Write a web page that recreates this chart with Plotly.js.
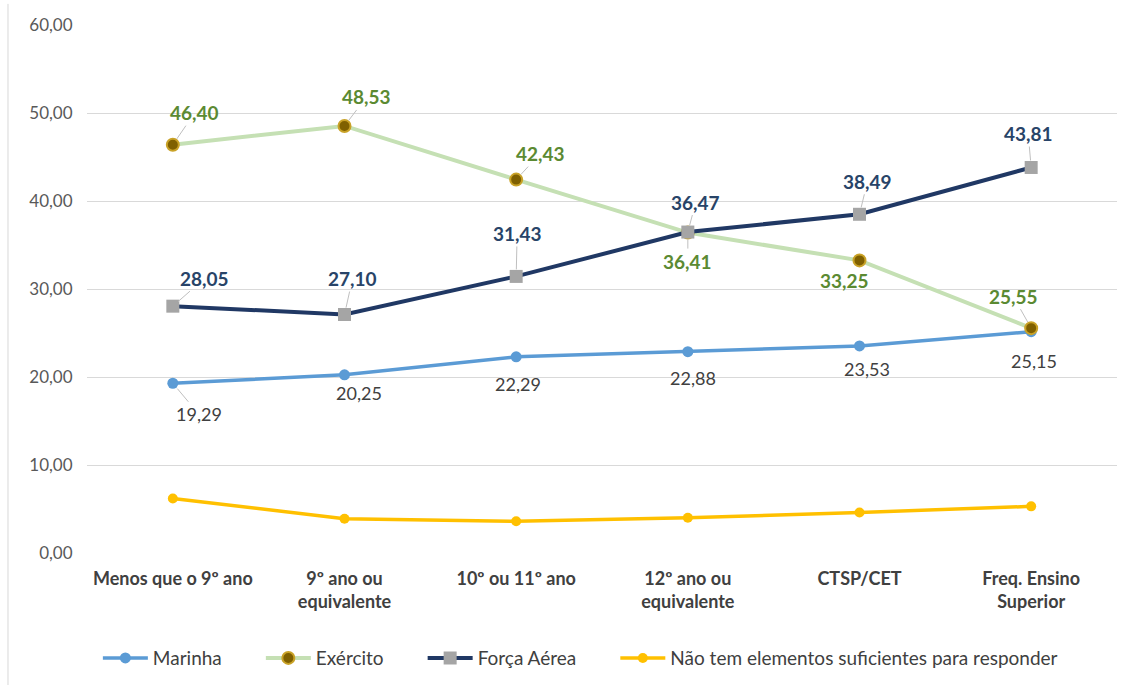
<!DOCTYPE html>
<html>
<head>
<meta charset="utf-8">
<script src="https://cdn.plot.ly/plotly-3.0.1.min.js"></script>
<style>html,body{margin:0;padding:0;background:#fff;}#chart{width:1133px;height:689px;}</style>
</head>
<body>
<div id="chart"></div>
<script>
// ---- data ----
const categories = ["Menos que o 9º ano", "9º ano ou<br>equivalente", "10º ou 11º ano", "12º ano ou<br>equivalente", "CTSP/CET", "Freq. Ensino<br>Superior"];
const seriesNames = ["Marinha", "Exército", "Força Aérea", "Não tem elementos suficientes para responder"];
const marinha = [19.29, 20.25, 22.29, 22.88, 23.53, 25.15];
const exercito = [46.40, 48.53, 42.43, 36.41, 33.25, 25.55];
const forcaAerea = [28.05, 27.10, 31.43, 36.47, 38.49, 43.81];
const naoTem = [6.2, 3.9, 3.6, 4.0, 4.6, 5.3];
const yTicks = [0, 10, 20, 30, 40, 50, 60];

// ---- label placement (pixel offsets from point) ----
const offMarinha = [[26, 31, true], [14, 18, false], [2, 27, false], [5, 26, false], [7, 23, false], [3, 29, false]];
const offExercito = [[22, -32, true], [22, -29, true], [24, -26, true], [0, 29, true], [-15, 20, false], [-18, -32, true]];
const offForca = [[32, -28, true], [8, -36, true], [1, -43, true], [8, -30, true], [8, -33, true], [-3, -34, true]];

const FONT = "Lato, 'Open Sans', sans-serif";
const fmt = v => v.toFixed(2).replace('.', ',');
const PAD = '\u00A0'.repeat(7);

const styles = [
  {line: {color: '#5B9BD5', width: 3.5}, marker: {symbol: 'circle', size: 11, color: '#5B9BD5'}},
  {line: {color: '#C5E0B4', width: 4}, marker: {symbol: 'circle', size: 12, color: '#7F6000', line: {color: '#C9A227', width: 2}}},
  {line: {color: '#203864', width: 4}, marker: {symbol: 'square', size: 13, color: '#A5A5A5'}},
  {line: {color: '#FFC000', width: 3.5}, marker: {symbol: 'circle', size: 10, color: '#FFC000'}}
];
const allSeries = [marinha, exercito, forcaAerea, naoTem];

const xIdx = categories.map((c, i) => i);
const traces = allSeries.map((vals, k) => ({
  type: 'scatter', mode: 'lines+markers',
  name: seriesNames[k] + (k < allSeries.length - 1 ? PAD : ''),
  x: xIdx, y: vals,
  line: styles[k].line, marker: styles[k].marker,
  hoverinfo: 'skip'
}));

const annotations = [];
function addLabels(vals, offs, color, bold, size) {
  vals.forEach((v, i) => {
    const [dx, dy, leader] = offs[i];
    const txt = bold ? '<b>' + fmt(v) + '</b>' : fmt(v);
    const base = {x: i, y: v, xref: 'x', yref: 'y', text: txt,
      font: {family: FONT, size: size, color: color}};
    if (leader) {
      annotations.push(Object.assign(base, {showarrow: true, ax: dx, ay: dy, arrowhead: 0,
        arrowwidth: 1, arrowcolor: '#BFBFBF', standoff: 7}));
    } else {
      annotations.push(Object.assign(base, {showarrow: false, xshift: dx, yshift: -dy}));
    }
  });
}
addLabels(marinha, offMarinha, '#404040', false, 18);
addLabels(exercito, offExercito, '#5B8A32', true, 19);
addLabels(forcaAerea, offForca, '#284468', true, 19);

const layout = {
  width: 1133, height: 689,
  margin: {l: 87, r: 16, t: 25, b: 136},
  paper_bgcolor: '#fff', plot_bgcolor: '#fff',
  separators: ', ',
  font: {family: FONT, color: '#595959'},
  showlegend: true,
  legend: {orientation: 'h', x: 0.479, xanchor: 'center', y: -0.199, yanchor: 'middle',
    font: {family: FONT, size: 19, color: '#404040'}, itemwidth: 45, tracegroupgap: 0},
  xaxis: {
    type: 'linear', range: [-0.5, 5.5], tickvals: xIdx, ticktext: categories,
    showgrid: false, zeroline: false, showline: false,
    ticks: 'outside', ticklen: 9, tickcolor: 'rgba(0,0,0,0)',
    tickfont: {family: FONT, size: 18, color: '#404040', weight: 'bold'}
  },
  yaxis: {
    range: [0, 60], tickvals: yTicks, tickformat: '.2f',
    showgrid: true, gridcolor: '#D9D9D9', gridwidth: 1, zeroline: false, showline: false,
    ticks: 'outside', ticklen: 10, tickcolor: 'rgba(0,0,0,0)',
    tickfont: {family: FONT, size: 17, color: '#595959'}
  },
  annotations: annotations,
  shapes: [{type: 'line', xref: 'paper', yref: 'paper', x0: -0.0767, x1: -0.0767, y0: -0.25, y1: 1.04,
    line: {color: '#D9D9D9', width: 1}}]
};

Plotly.newPlot('chart', traces, layout, {displayModeBar: false, staticPlot: true});
</script>
</body>
</html>
